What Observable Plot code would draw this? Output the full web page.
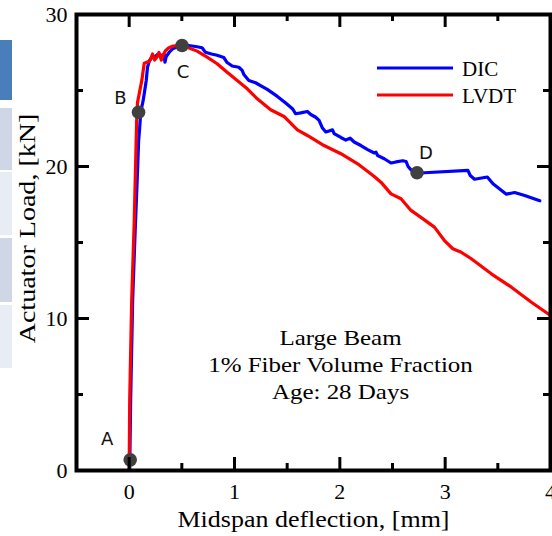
<!DOCTYPE html>
<html>
<head>
<meta charset="utf-8">
<script src="https://cdn.jsdelivr.net/npm/d3@7"></script>
<script src="https://cdn.jsdelivr.net/npm/@observablehq/plot@0.6"></script>
<style>
  html, body { margin: 0; padding: 0; background: #fff; }
  #wrap { position: relative; width: 552px; height: 536px; overflow: hidden; }
  #wrap > svg.plotsvg { position: absolute; left: 0; top: 0; }
  .deco { position: absolute; left: 0; width: 12px; }
  #legend { position: absolute; left: 370px; top: 50px; }
</style>
</head>
<body>
<div id="wrap"></div>
<script>
// ---------- data ----------
const dicX = [0.005,0.014,0.033,0.057,0.076,0.090,0.098,0.111,0.130,0.143,
  0.162,0.174,0.193,0.216,0.248,0.270,0.295,0.314,0.330,0.340,
  0.352,0.381,0.412,0.448,0.502,0.565,0.645,0.692,0.724,0.781,
  0.835,0.898,0.930,0.978,1.041,1.073,1.089,1.136,1.200,1.264,
  1.311,1.407,1.486,1.550,1.581,1.629,1.692,1.724,1.771,1.803,
  1.835,1.867,1.898,1.930,1.946,2.010,2.057,2.098,2.136,2.200,
  2.264,2.327,2.343,2.359,2.422,2.486,2.533,2.597,2.629,2.648,
  2.676,2.733,2.803,3.216,3.238,3.279,3.400,3.454,3.581,3.660,
  3.755,3.898];
const dicY = [0,4.61,11.18,15.79,19.08,21.71,22.37,23.68,24.23,24.78,
  25.66,26.53,26.97,27.19,27.24,27.37,27.37,27.19,27.41,26.86,
  27.24,27.52,27.74,27.85,27.96,27.96,27.88,27.81,27.52,27.40,
  27.32,27.17,26.84,26.61,26.53,26.32,26.05,25.66,25.51,25.26,
  25.07,24.61,24.18,23.80,23.47,23.53,23.62,23.42,23.24,23.03,
  22.53,22.27,22.34,22.41,22.17,21.91,21.74,21.86,21.61,21.38,
  21.11,20.89,20.94,20.72,20.51,20.23,20.30,20.38,20.33,20.00,
  19.78,19.57,19.59,19.74,19.41,19.16,19.31,18.86,18.18,18.29,
  18.09,17.74];

const lvdtX = [0,0.005,0.024,0.048,0.062,0.071,0.079,0.121,0.143,0.184,
  0.200,0.222,0.241,0.264,0.283,0.305,0.321,0.343,0.374,0.407,
  0.454,0.502,0.550,0.645,0.740,0.835,0.930,1.026,1.121,1.216,
  1.343,1.470,1.597,1.692,1.850,2.010,2.169,2.327,2.390,2.486,
  2.581,2.676,2.803,2.898,2.993,3.073,3.152,3.248,3.438,3.629,
  3.819,4.0];
const lvdtY = [0,4.6,11.2,16.4,20.4,23.0,24.2,25.7,26.8,26.9,
  27.0,27.4,27.0,27.2,27.5,27.0,27.3,27.6,27.8,27.9,
  27.96,27.96,27.85,27.59,27.19,26.76,26.20,25.66,25.11,24.45,
  23.73,23.29,22.41,22.04,21.38,20.84,20.18,19.34,18.97,18.20,
  17.88,17.11,16.49,16.01,15.13,14.59,14.36,13.93,12.94,12.06,
  11.07,10.2];

const pointNames = ["A", "B", "C", "D"];
const pointX = [0.01, 0.089, 0.502, 2.733];
const pointY = [0.7, 23.57, 27.96, 19.59];

const seriesNames = ["DIC", "LVDT"];
const seriesColors = ["#0000ff", "#ff0000"];

const xDomain = [-0.5, 4];
const yDomain = [0, 30];
const xMajorTicks = [0, 1, 2, 3, 4];
const xMinorTicks = [0.5, 1.5, 2.5, 3.5];
const yMajorTicks = [0, 10, 20, 30];
const yMinorTicks = [5, 15, 25];

const xLabel = "Midspan deflection, [mm]";
const yLabel = "Actuator Load, [kN]";
const annotationLines = ["Large Beam", "1% Fiber Volume Fraction", "Age: 28 Days"];

// ---------- build tables ----------
const dic = dicX.map((x, i) => ({x, y: dicY[i]}));
const lvdt = lvdtX.map((x, i) => ({x, y: lvdtY[i]}));
const points = pointNames.map((name, i) => ({name, x: pointX[i], y: pointY[i]}));

const labelOffsets = {A: [-23, -21], B: [-18, -14], C: [1, 27], D: [9, -19]};

const serif = "'Liberation Serif', 'Times New Roman', serif";

const W = 552, H = 536, ML = 76, MR = 2, MT = 14, MB = 66;
const FW = W - ML - MR, FH = H - MT - MB;
const MAJ = 13, MIN = 7;
// tick lengths converted from pixels to data units
const xPerPx = (xDomain[1] - xDomain[0]) / FW;
const yPerPx = (yDomain[1] - yDomain[0]) / FH;

const tickStyle = {stroke: "black", strokeWidth: 3};
const tickMarks = [
  // bottom & top (inward)
  Plot.ruleX(xMajorTicks, {x: d => d, y1: yDomain[0], y2: yDomain[0] + MAJ * yPerPx, ...tickStyle}),
  Plot.ruleX(xMinorTicks, {x: d => d, y1: yDomain[0], y2: yDomain[0] + MIN * yPerPx, ...tickStyle}),
  Plot.ruleX(xMajorTicks, {x: d => d, y1: yDomain[1], y2: yDomain[1] - MAJ * yPerPx, ...tickStyle}),
  Plot.ruleX(xMinorTicks, {x: d => d, y1: yDomain[1], y2: yDomain[1] - MIN * yPerPx, ...tickStyle}),
  // left & right (inward)
  Plot.ruleY(yMajorTicks, {y: d => d, x1: xDomain[0], x2: xDomain[0] + MAJ * xPerPx, ...tickStyle}),
  Plot.ruleY(yMinorTicks, {y: d => d, x1: xDomain[0], x2: xDomain[0] + MIN * xPerPx, ...tickStyle}),
  Plot.ruleY(yMajorTicks, {y: d => d, x1: xDomain[1], x2: xDomain[1] - MAJ * xPerPx, ...tickStyle}),
  Plot.ruleY(yMinorTicks, {y: d => d, x1: xDomain[1], x2: xDomain[1] - MIN * xPerPx, ...tickStyle})
];

const chart = Plot.plot({
  width: W,
  height: H,
  marginLeft: ML,
  marginRight: MR,
  marginTop: MT,
  marginBottom: MB,
  style: {fontFamily: serif, fontSize: "22px", color: "black", background: "transparent"},
  x: {domain: xDomain, label: null},
  y: {domain: yDomain, label: null},
  marks: [
    Plot.line(dic, {x: "x", y: "y", stroke: seriesColors[0], strokeWidth: 3.2, strokeLinejoin: "round", strokeLinecap: "round"}),
    Plot.line(lvdt, {x: "x", y: "y", stroke: seriesColors[1], strokeWidth: 3.2, strokeLinejoin: "round", strokeLinecap: "round"}),
    Plot.dot(points, {x: "x", y: "y", r: 6.8, fill: "#404040", stroke: "none"}),
    ...pointNames.map(n => Plot.text(points.filter(d => d.name === n), {
      x: "x", y: "y", text: "name", dx: labelOffsets[n][0], dy: labelOffsets[n][1],
      fontFamily: "'DejaVu Sans', sans-serif", fontSize: 18, fill: "#111"
    })),
    Plot.text([annotationLines.join("\n")], {
      frameAnchor: "top-left", dx: 264, dy: 311.4, textAnchor: "middle", lineAnchor: "top",
      lineHeight: 27 / 22, fontSize: 22, fill: "black"
    }),
    Plot.text([xLabel], {frameAnchor: "bottom", dy: 56, textAnchor: "middle", lineAnchor: "bottom", fontSize: 23, fill: "black"}),
    Plot.text([yLabel], {frameAnchor: "left", dx: -42, dy: -14, rotate: -90, textAnchor: "middle", lineAnchor: "bottom", fontSize: 23, fill: "black"}),
    Plot.axisX({anchor: "bottom", ticks: xMajorTicks, tickSize: 0, tickPadding: 13, tickFormat: d => String(d), fontSize: 22, label: null}),
    Plot.axisY({anchor: "left", ticks: yMajorTicks, tickSize: 0, tickPadding: 9, tickFormat: d => String(d), fontSize: 22, label: null}),
    ...tickMarks,
    Plot.frame({stroke: "black", strokeWidth: 4})
  ]
});
chart.classList.add("plotsvg");

// the reference's labels are horizontally widened; stretch them along their length
function stretch(match, s) {
  chart.querySelectorAll("text").forEach(t => {
    if (!match(t.textContent)) return;
    const tr = t.getAttribute("transform") || "";
    t.setAttribute("transform", (tr + ` scale(${s},1)`).trim());
  });
}
stretch(s => s.startsWith(annotationLines[0]), 1.135);
stretch(s => s === xLabel, 1.13);
stretch(s => s === yLabel, 1.22);

const wrap = document.getElementById("wrap");

// decorative strip at left edge (slide-table remnants in the reference)
const decoBoxes = [[40, 60, "#4a7ebb"], [108, 62, "#cfd6e6"], [172, 63, "#e8ecf4"], [238, 64, "#cfd6e6"], [305, 63, "#e8ecf4"]];
for (const [top, h, c] of decoBoxes) {
  const d = document.createElement("div");
  d.className = "deco";
  d.style.top = top + "px"; d.style.height = h + "px"; d.style.background = c;
  wrap.appendChild(d);
}
wrap.appendChild(chart);

// legend
const ns = "http://www.w3.org/2000/svg";
const leg = document.createElementNS(ns, "svg");
leg.setAttribute("id", "legend");
leg.setAttribute("width", 160);
leg.setAttribute("height", 64);
seriesNames.forEach((name, i) => {
  const yl = 18 + i * 27;
  const ln = document.createElementNS(ns, "line");
  ln.setAttribute("x1", 7); ln.setAttribute("x2", 83);
  ln.setAttribute("y1", yl); ln.setAttribute("y2", yl);
  ln.setAttribute("stroke", seriesColors[i]); ln.setAttribute("stroke-width", 3);
  leg.appendChild(ln);
  const tx = document.createElementNS(ns, "text");
  tx.setAttribute("x", 92); tx.setAttribute("y", yl + 7.5);
  tx.setAttribute("font-family", serif); tx.setAttribute("font-size", 21);
  tx.textContent = name;
  leg.appendChild(tx);
});
wrap.appendChild(leg);
</script>
</body>
</html>
